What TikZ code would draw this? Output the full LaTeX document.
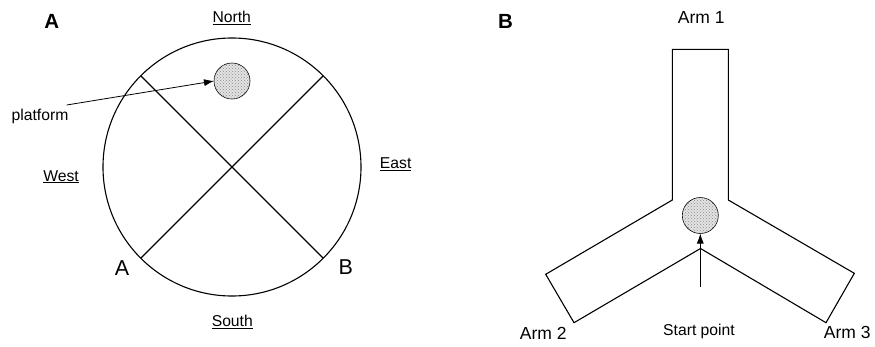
\documentclass[tikz,border=0pt]{standalone}
\usepackage{fontspec}
\setmainfont{Liberation Sans}
\usetikzlibrary{arrows.meta,patterns}
\begin{document}
\begin{tikzpicture}[x=1pt,y=-1pt,
  lbl/.style={inner sep=0pt,font=\fontsize{15.7}{18}\selectfont},
  armlbl/.style={inner sep=0pt,font=\fontsize{17.5}{20}\selectfont},
  panel/.style={inner sep=0pt,font=\fontsize{20.5}{24}\selectfont\bfseries},
  bigl/.style={inner sep=0pt,font=\fontsize{21.5}{25}\selectfont},
  wall/.style={line width=1.1pt,line join=miter},
  plat/.style={circle,minimum size=36pt,inner sep=0pt,outer sep=0pt,draw,line width=0.6pt,
    fill=gray!22,postaction={pattern=crosshatch dots,pattern color=gray!90}},
  arr/.style={line width=0.8pt,-{Latex[length=10pt,width=7pt]}}]
\useasboundingbox (0,0) rectangle (875,346);
% ---------- Panel A ----------
\node[panel] (pa) at (51.7,21) {A};
\node[circle,draw,wall,minimum size=258pt,inner sep=0pt,outer sep=0pt] (arena) at (232,167) {};
\draw[wall] (arena.135) -- (arena.-45);
\draw[wall] (arena.45) -- (arena.-135);
\node[plat] (platA) at (232,81) {};
\node[lbl] (north) at (231.7,18.3) {\underline{North}};
\node[lbl] (south) at (232.3,321.7) {\underline{South}};
\node[lbl] (west) at (61,176.7) {\underline{West}};
\node[lbl] (east) at (395.7,164.3) {\underline{East}};
\node[lbl] (platlbl) at (40,116.7) {platform};
\coordinate (pstart) at (66.7,105);
\draw[arr] (pstart) -- (platA.west);
\node[bigl] (la) at (122,268.3) {A};
\node[bigl] (lb) at (345.7,267.3) {B};
% ---------- Panel B ----------
\node[panel] (pb) at (505.5,21) {B};
\coordinate (a1l) at (672.3,49.3);
\coordinate (a1r) at (728.3,49.3);
\coordinate (ir) at (728.3,200);
\coordinate (a3t) at (854.3,273.3);
\coordinate (a3b) at (826,322.7);
\coordinate (ib) at (700.5,248.5);
\coordinate (a2b) at (574,322.7);
\coordinate (a2t) at (545.7,274.3);
\coordinate (il) at (672.3,200);
\draw[wall] (a1l) -- (a1r) -- (ir) -- (a3t) -- (a3b) -- (ib) -- (a2b) -- (a2t) -- (il) -- cycle;
\node[plat] (platB) at (700.3,215.5) {};
\node[armlbl] (arm1) at (701.2,17.3) {Arm 1};
\node[armlbl] (arm2) at (543.3,333.3) {Arm 2};
\node[armlbl] (arm3) at (847.3,332.3) {Arm 3};
\node[lbl] (startlbl) at (699,331.7) {Start point};
\coordinate (sstart) at (700.3,287);
\draw[arr] (sstart) -- (platB.south);
\end{tikzpicture}
\end{document}
